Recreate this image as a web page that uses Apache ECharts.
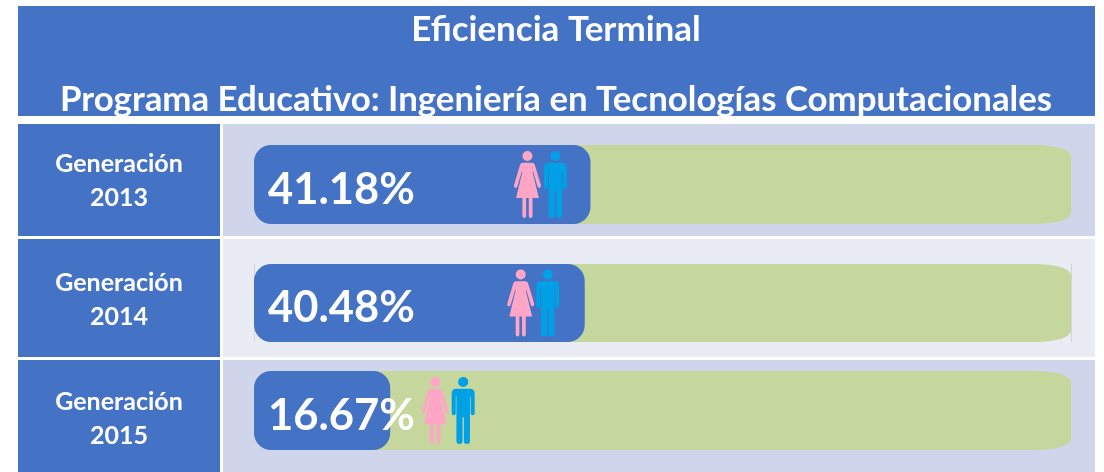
<!DOCTYPE html>
<html>
<head>
<meta charset="utf-8">
<title>Eficiencia Terminal</title>
<style>
  html, body { margin: 0; padding: 0; background: #fff; }
  #chart { width: 1104px; height: 472px; }
</style>
<script src="https://cdn.jsdelivr.net/npm/echarts@6/dist/echarts.min.js"></script>
</head>
<body>
<div id="chart"></div>
<script>
const generations = ['Generación\n2013', 'Generación\n2014', 'Generación\n2015'];
const efficiency = [41.18, 40.48, 16.67];
const trackTotal = [100, 100, 100];

// layout of the table, one entry per row
const rowTops = [124, 239, 360];
const rowHeights = [112, 118, 112];
const rowColors = ['#CFD5EA', '#E9EBF5', '#CFD5EA'];
const barTops = [145, 264, 371];
const barHeights = [79, 78, 79];
const labelCenters = [181, 300, 419];
// people icons sit at the bar end, shifted by this many px
const womanShift = [-63, -64, 45];
const manShift = [-35, -37, 73];

const BLUE = '#4472C4';
const FONT = 'Lato';

const womanPath = 'path://M40 0a15 15 0 1 1 -0.01 0z M26 35L54 35Q60 35 62 41L80 102Q81 109 76 110Q72 111 70 106L57 62L55 62L74 140L55 140L55 194Q55 200 49 200Q44 200 44 194L44 140L36 140L36 194Q36 200 31 200Q25 200 25 194L25 140L6 140L25 62L23 62L10 106Q8 111 4 110Q-1 109 0 102L18 41Q20 35 26 35z';
const manPath = 'path://M34 0a15 15 0 1 1 -0.01 0z M14 35L54 35Q68 35 68 49L68 108Q68 114 62 114Q56 114 56 108L56 58L54 58L54 192Q54 200 45 200Q36 200 36 192L36 120L32 120L32 192Q32 200 23 200Q14 200 14 192L14 58L12 58L12 108Q12 114 6 114Q0 114 0 108L0 49Q0 35 14 35z';

// green track with the long soft corners on its right end
function renderTrack(params, api) {
  const end = api.coord([api.value(0), 0]);
  const start = api.coord([0, 0]);
  const h = api.size([0, 1])[1];
  const top = end[1] - h / 2;
  const bottom = end[1] + h / 2;
  const left = start[0] + 17; // hidden behind the rounded blue bar
  return {
    type: 'path',
    shape: {
      pathData: 'M' + left + ' ' + top +
        'L' + (end[0] - 38) + ' ' + top +
        'C' + (end[0] - 16) + ' ' + top + ' ' + end[0] + ' ' + (top + 4) + ' ' + end[0] + ' ' + (top + 12) +
        'L' + end[0] + ' ' + (bottom - 12) +
        'C' + end[0] + ' ' + (bottom - 4) + ' ' + (end[0] - 16) + ' ' + bottom + ' ' + (end[0] - 38) + ' ' + bottom +
        'L' + left + ' ' + bottom + 'Z',
      x: left, y: top, width: end[0] - left, height: h
    },
    style: { fill: '#C5D79D' }
  };
}

const graphic = [
  { type: 'rect', z: -10, shape: { x: 18, y: 6, width: 1077, height: 110 }, style: { fill: BLUE } }
];
generations.forEach((name, i) => {
  graphic.push(
    { type: 'rect', z: -10, shape: { x: 18, y: rowTops[i], width: 202, height: rowHeights[i] }, style: { fill: BLUE } },
    { type: 'rect', z: -10, shape: { x: 223, y: rowTops[i], width: 872, height: rowHeights[i] }, style: { fill: rowColors[i] } },
    {
      type: 'text', z: 5, x: 119, y: labelCenters[i],
      style: {
        text: name, fill: '#fff', font: 'bold 25px ' + FONT,
        align: 'center', verticalAlign: 'middle', lineHeight: 34
      }
    }
  );
});

const grid = [], xAxis = [], yAxis = [], series = [];
generations.forEach((name, i) => {
  grid.push({ left: 254, width: 817, top: barTops[i], height: barHeights[i] });
  xAxis.push({
    type: 'value', gridIndex: i, min: 0, max: 100, interval: 100,
    axisLine: { show: false }, axisTick: { show: false }, axisLabel: { show: false },
    splitLine: { show: true, lineStyle: { color: '#D4D4D4', width: 1 } }
  });
  yAxis.push({
    type: 'category', gridIndex: i, data: [name],
    axisLine: { show: false }, axisTick: { show: false }, axisLabel: { show: false }
  });
  series.push({
    type: 'custom', xAxisIndex: i, yAxisIndex: i, z: 1, clip: false,
    renderItem: renderTrack, encode: { x: 0 }, data: [[trackTotal[i]]]
  });
  series.push({
    type: 'bar', xAxisIndex: i, yAxisIndex: i, z: 2, barWidth: '100%',
    data: [efficiency[i]],
    itemStyle: { color: BLUE, borderRadius: 17 },
    label: {
      show: true, position: 'insideLeft', distance: 14, offset: [0, 5],
      formatter: '{c}%', color: '#fff', fontFamily: FONT, fontWeight: 'bold', fontSize: 43.5
    }
  });
  series.push({
    type: 'scatter', xAxisIndex: i, yAxisIndex: i, z: 3, silent: true,
    data: [[efficiency[i], 0]],
    symbol: womanPath, symbolSize: [27, 67], symbolOffset: [womanShift[i], 0],
    itemStyle: { color: '#FFA6C6', opacity: 1 }
  });
  series.push({
    type: 'scatter', xAxisIndex: i, yAxisIndex: i, z: 3, silent: true,
    data: [[efficiency[i], 0]],
    symbol: manPath, symbolSize: [23, 67], symbolOffset: [manShift[i], 0],
    itemStyle: { color: '#00A0E6', opacity: 1 }
  });
});

const chart = echarts.init(document.getElementById('chart'));
chart.setOption({
  animation: false,
  backgroundColor: '#fff',
  title: [
    { text: 'Eficiencia Terminal', left: 551, top: 25, textAlign: 'center', textVerticalAlign: 'middle',
      textStyle: { color: '#fff', fontFamily: FONT, fontWeight: 'bold', fontSize: 35 } },
    { text: 'Programa Educativo: Ingeniería en Tecnologías Computacionales', left: 551, top: 95, textAlign: 'center', textVerticalAlign: 'middle',
      textStyle: { color: '#fff', fontFamily: FONT, fontWeight: 'bold', fontSize: 34.8 } }
  ],
  graphic,
  grid,
  xAxis,
  yAxis,
  series
});
</script>
</body>
</html>
